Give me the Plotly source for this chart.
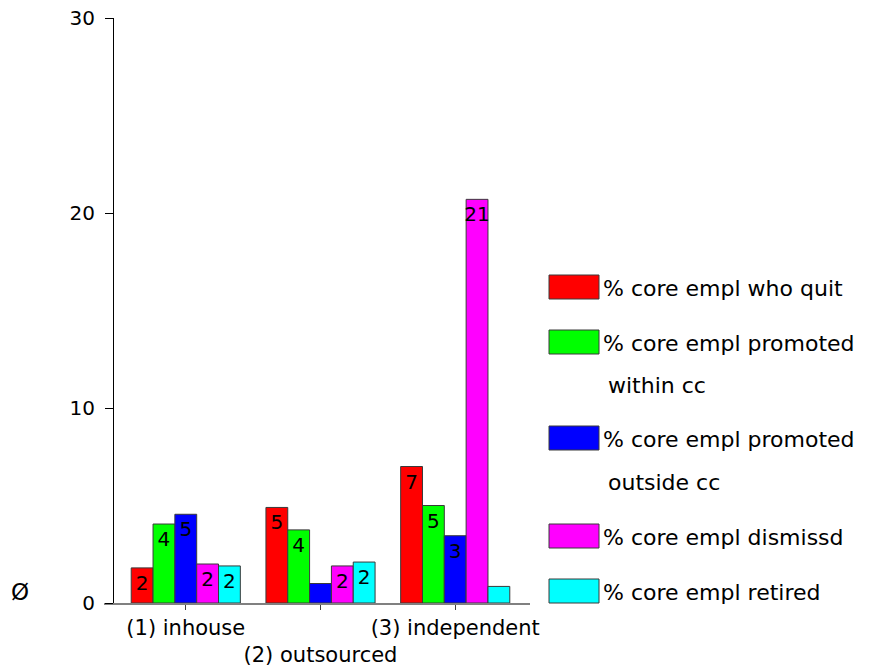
import plotly.graph_objects as go

# Categories and per-category percentages for each employee-movement series
categories = ["(1) inhouse", "(2) outsourced", "(3) independent"]
tick_text = ["(1) inhouse", "<br>(2) outsourced", "(3) independent"]

series_names = [
    "% core empl who quit",
    "% core empl promoted within cc",
    "% core empl promoted outside cc",
    "% core empl dismissd",
    "% core empl retired",
]
quit_vals = [1.8, 4.9, 7.0]
promoted_within = [4.05, 3.75, 5.0]
promoted_outside = [4.55, 1.0, 3.45]
dismissed = [2.0, 1.9, 20.7]
retired = [1.9, 2.1, 0.85]

series_values = [quit_vals, promoted_within, promoted_outside, dismissed, retired]
colors = ["#ff0000", "#00ff00", "#0000ff", "#ff00ff", "#00ffff"]

# legend rows: first line and optional continuation line
legend_lines = [
    ("% core empl who quit", None),
    ("% core empl promoted", "within cc"),
    ("% core empl promoted", "outside cc"),
    ("% core empl dismissd", None),
    ("% core empl retired", None),
]

FONT = "DejaVu Sans"
W, H = 882, 667
# plot-area box in pixels
L, R, T, B = 104, 530, 18, 603


def px_x(p):
    return (p - L) / (R - L)


def px_y(p):
    return (B - p) / (B - T)


def label_for(v):
    return str(int(round(v))) if v >= 1.5 else ""


fig = go.Figure()
for name, vals, col in zip(series_names, series_values, colors):
    fig.add_trace(go.Bar(
        x=categories,
        y=vals,
        name=name,
        marker=dict(color=col, line=dict(color="#3a3a3a", width=1)),
        text=[label_for(v) for v in vals],
        textposition="inside",
        insidetextanchor="end",
        textangle=0,
        constraintext="none",
        textfont=dict(family=FONT, size=20, color="black"),
        showlegend=False,
    ))

shapes = []
annotations = []
swatch_tops = [275, 330, 426, 524, 579]
first_line_y = [288, 343, 439, 537, 592]
second_line_y = [None, 385, 482, None, None]
for i, col in enumerate(colors):
    top = swatch_tops[i]
    shapes.append(dict(
        type="rect", xref="paper", yref="paper",
        x0=px_x(549), x1=px_x(599), y0=px_y(top + 24), y1=px_y(top),
        fillcolor=col, line=dict(color="#3a3a3a", width=1),
    ))
    first, second = legend_lines[i]
    annotations.append(dict(
        text=first, xref="paper", yref="paper",
        x=px_x(601), y=px_y(first_line_y[i]),
        xanchor="left", yanchor="middle", showarrow=False,
        font=dict(family=FONT, size=22, color="black"),
    ))
    if second:
        annotations.append(dict(
            text=second, xref="paper", yref="paper",
            x=px_x(606), y=px_y(second_line_y[i]),
            xanchor="left", yanchor="middle", showarrow=False,
            font=dict(family=FONT, size=22, color="black"),
        ))

# y-axis title glyph
annotations.append(dict(
    text="Ø", xref="paper", yref="paper",
    x=px_x(20), y=px_y(592), xanchor="center", yanchor="middle",
    showarrow=False, font=dict(family=FONT, size=23, color="black"),
))

fig.update_layout(
    width=W, height=H,
    margin=dict(l=L, r=W - R, t=T, b=H - B, pad=0, autoexpand=False),
    paper_bgcolor="white", plot_bgcolor="white",
    barmode="group", bargap=0.19, bargroupgap=0,
    shapes=shapes, annotations=annotations,
    font=dict(family=FONT, color="black"),
    xaxis=dict(
        range=[-0.607, 2.555],
        tickmode="array", tickvals=categories, ticktext=tick_text,
        tickangle=0, automargin=False,
        showline=True, linecolor="#808080", linewidth=1.5,
        ticks="outside", ticklen=5, tickcolor="#404040",
        showgrid=False, zeroline=False,
        tickfont=dict(family=FONT, size=21, color="black"),
    ),
    yaxis=dict(
        range=[0, 30], tickvals=[0, 10, 20, 30],
        anchor="free", position=px_x(113), automargin=False,
        showline=True, linecolor="black", linewidth=1,
        ticks="outside", ticklen=8, tickcolor="black",
        ticklabelstandoff=6,
        showgrid=False, zeroline=False,
        tickfont=dict(family=FONT, size=20, color="black"),
    ),
)

fig.write_html("out.html")
